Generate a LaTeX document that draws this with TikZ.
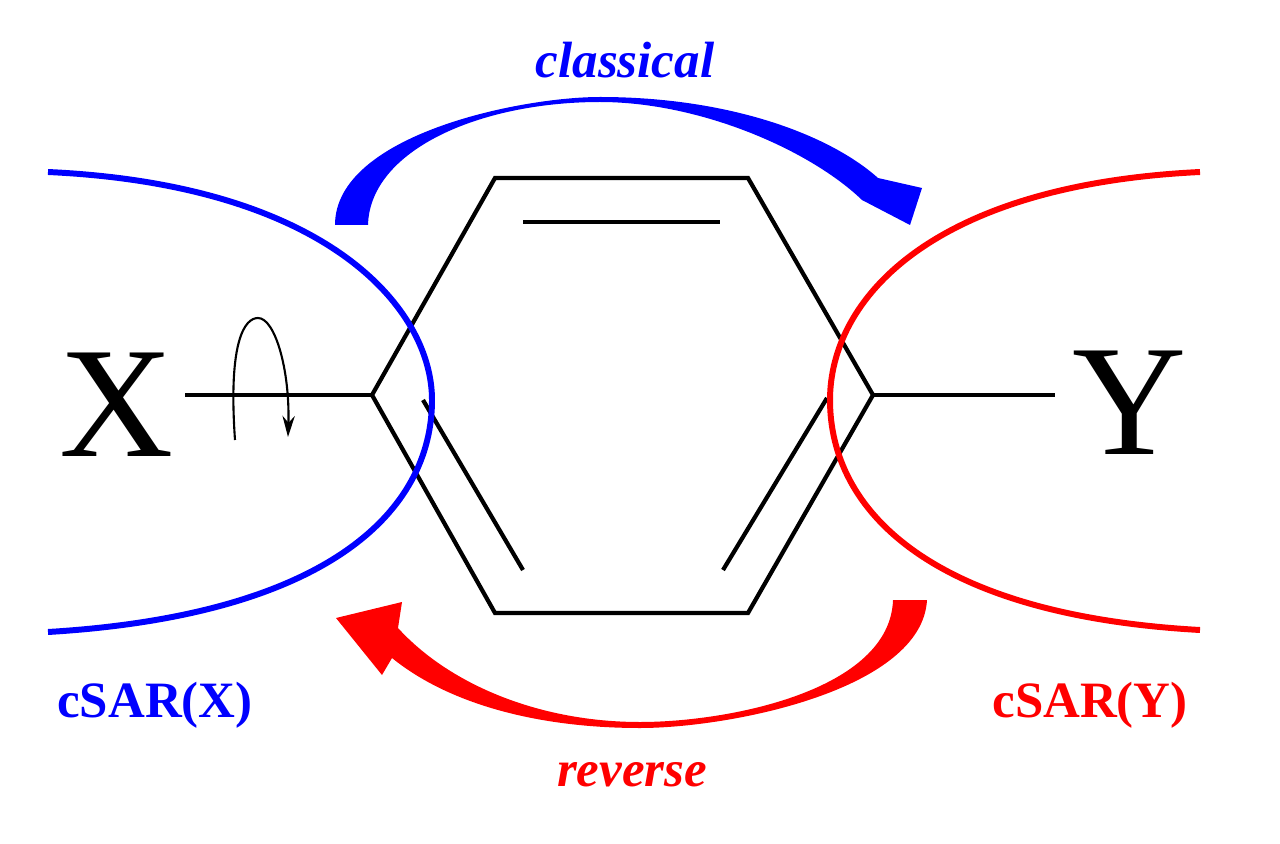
\documentclass[tikz,border=0pt]{standalone}
\usepackage{fontspec}
\setmainfont{Liberation Serif}
\usetikzlibrary{arrows.meta}
\definecolor{myblue}{RGB}{0,0,255}
\definecolor{myred}{RGB}{255,0,0}
\begin{document}
\begin{tikzpicture}[x=0.02cm,y=-0.02cm,
  bond/.style={line width=2.4pt,black},
  lobe/.style={line width=3.4pt},
  lbl/.style={font=\fontsize{29}{32}\selectfont\bfseries},
  atom/.style={font=\fontsize{90}{94}\selectfont}]
\useasboundingbox (0,0) rectangle (1280,844);
% hexagon
\coordinate (h1) at (495,178); \coordinate (h2) at (748,178);
\coordinate (h3) at (873,395); \coordinate (h4) at (748,613);
\coordinate (h5) at (495,613); \coordinate (h6) at (372,395);
\draw[bond,line join=miter] (h1)--(h2)--(h3)--(h4)--(h5)--(h6)--cycle;
\draw[bond] (523,222)--(720,222);
\draw[bond] (423,400)--(523,570);
\draw[bond] (827,398)--(723,570);
% substituents
\node[atom] (X) at (117,405) {X};
\node[atom] (Y) at (1130,403) {Y};
\coordinate (xb) at (185,395); \coordinate (yb) at (1055,395);
\draw[bond] (xb)--(h6);
\draw[bond] (h3)--(yb);
% rotation arrow
\draw[line width=1.2pt,-{Stealth[length=12pt,width=7pt]}] (235,440) .. controls (228,340) and (245,318) .. (258,318) .. controls (275,318) and (290,370) .. (288,437);
% lobes
\draw[lobe,myblue] (48,172) .. controls (330,185) and (432,310) .. (432,400) .. controls (432,510) and (330,615) .. (48,632);
\draw[lobe,myred] (1200,172) .. controls (930,185) and (830,300) .. (830,400) .. controls (830,510) and (930,615) .. (1200,630);
% classical arrow
\fill[myblue] (335,225) .. controls (335,135) and (520,97) .. (600,97) .. controls (730,97) and (830,135) .. (878,178) -- (922,188) -- (910,225) -- (862,200) .. controls (810,150) and (700,102) .. (600,102) .. controls (480,102) and (370,150) .. (368,225) -- cycle;
% reverse arrow
\fill[myred] (927,600) .. controls (922,690) and (730,728) .. (640,728) .. controls (540,728) and (450,705) .. (392,658) -- (382,675) -- (336,618) -- (402,602) -- (398,628) .. controls (450,685) and (540,722) .. (640,722) .. controls (730,722) and (890,690) .. (893,600) -- cycle;
% labels
\node[lbl,myblue] (cl) at (625,60) {\itshape classical};
\node[lbl,myred] (rv) at (632,775) {\itshape reverse};
\node[lbl,myblue] (cx) at (155,705) {cSAR(X)};
\node[lbl,myred] (cy) at (1090,705) {cSAR(Y)};
\end{tikzpicture}
\end{document}
